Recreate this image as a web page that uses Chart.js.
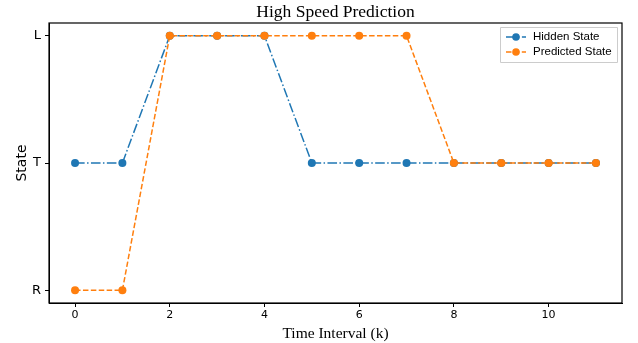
<!DOCTYPE html>
<html><head><meta charset="utf-8">
<script src="https://cdn.jsdelivr.net/npm/chart.js@4/dist/chart.umd.min.js"></script>
<style>html,body{margin:0;padding:0;background:#fff}#wrap{width:638px;height:343px}</style>
</head><body><div id="wrap"><canvas id="c" width="638" height="343"></canvas></div>
<script>
const timeSteps = [0,1,2,3,4,5,6,7,8,9,10,11];
const stateLabels = ['R','T','L'];
const hiddenState = ['T','T','L','L','L','T','T','T','T','T','T','T'];
const predictedState = ['R','R','L','L','L','L','L','L','T','T','T','T'];
const xTicks = [0,2,4,6,8,10];

const toPts = arr => arr.map((s,i)=>({x:timeSteps[i], y:stateLabels.indexOf(s)}));

const frameAndLegend = {
  id:'frameAndLegend',
  afterDraw(chart){
    const {ctx, chartArea:a} = chart;
    ctx.save();
    ctx.strokeStyle='#000'; ctx.lineWidth=1.2;
    ctx.strokeRect(a.left, a.top, a.right-a.left, a.bottom-a.top);
    // title
    ctx.fillStyle='#000';
    ctx.font='17.5px "Liberation Serif", serif';
    ctx.textAlign='center'; ctx.textBaseline='middle';
    ctx.fillText('High Speed Prediction', (a.left+a.right)/2, 12);
    // legend
    const lx=a.right-122, ly=a.top+4, lw=117, lh=35;
    ctx.fillStyle='rgba(255,255,255,0.8)';
    ctx.strokeStyle='#cccccc'; ctx.lineWidth=1;
    ctx.beginPath(); ctx.rect(lx+0.5, ly+0.5, lw, lh); ctx.fill(); ctx.stroke();
    const items = chart.data.datasets.map(d=>d).sort((p,q)=>(p.legendIdx-q.legendIdx));
    items.forEach((d,i)=>{
      const y = ly+10+i*15;
      ctx.strokeStyle=d.borderColor; ctx.lineWidth=1.5;
      ctx.setLineDash(d.borderDash);
      ctx.beginPath(); ctx.moveTo(lx+6,y); ctx.lineTo(lx+26,y); ctx.stroke();
      ctx.setLineDash([]);
      ctx.fillStyle=d.borderColor;
      ctx.beginPath(); ctx.arc(lx+16,y,3.8,0,Math.PI*2); ctx.fill();
      ctx.fillStyle='#000';
      ctx.font='11.5px "Liberation Sans", sans-serif';
      ctx.textAlign='left'; ctx.textBaseline='middle';
      ctx.fillText(d.label, lx+33, y);
    });
    ctx.restore();
  }
};

new Chart(document.getElementById('c'), {
  type:'line',
  data:{datasets:[
    {label:'Hidden State', legendIdx:0, order:1, data:toPts(hiddenState), borderColor:'#1f77b4', backgroundColor:'#1f77b4',
     borderWidth:1.5, borderDash:[9.6,2.4,1.5,2.4], pointRadius:4, pointBorderWidth:0, tension:0, fill:false},
    {label:'Predicted State', legendIdx:1, order:0, data:toPts(predictedState), borderColor:'#ff7f0e', backgroundColor:'#ff7f0e',
     borderWidth:1.5, borderDash:[5.5,2.4], pointRadius:4, pointBorderWidth:0, tension:0, fill:false}
  ]},
  options:{
    responsive:false, animation:false, devicePixelRatio:1,
    layout:{padding:{top:23,right:16,left:0,bottom:0}},
    plugins:{legend:{display:false}, tooltip:{enabled:false}, title:{display:false}},
    scales:{
      x:{type:'linear', min:-0.55, max:11.55,
        afterBuildTicks(s){ s.ticks = xTicks.map(v=>({value:v})); },
        afterFit(s){ s.height=40; },
        grid:{display:true, drawOnChartArea:false, drawTicks:true, tickLength:4, color:'#000'},
        border:{display:true,color:'#000'},
        ticks:{color:'#000', font:{family:'"DejaVu Sans", sans-serif', size:11}, padding:2, maxRotation:0},
        title:{display:true, text:'Time Interval (k)', color:'#000', font:{family:'"Liberation Serif", serif', size:15.5}, padding:{top:0,bottom:0}}
      },
      y:{type:'linear', min:-0.1, max:2.1,
        afterBuildTicks(s){ s.ticks = stateLabels.map((_,i)=>({value:i})); },
        afterFit(s){ s.width=49; },
        grid:{display:true, drawOnChartArea:false, drawTicks:true, tickLength:4, color:'#000'},
        border:{display:true,color:'#000'},
        ticks:{color:'#000', font:{family:'"DejaVu Sans", sans-serif', size:13}, padding:4, callback:v=>stateLabels[v]},
        title:{display:true, text:'State', color:'#000', font:{family:'"DejaVu Sans", sans-serif', size:14}, padding:{top:14,bottom:0}}
      }
    }
  },
  plugins:[frameAndLegend]
});
</script></body></html>
